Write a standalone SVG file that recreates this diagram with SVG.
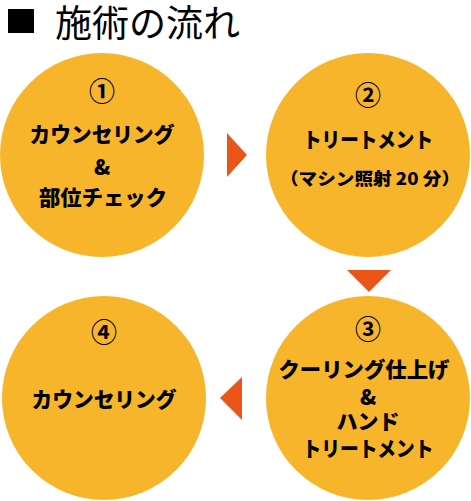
<svg xmlns="http://www.w3.org/2000/svg" width="471" height="501" viewBox="0 0 471 501">
<style>
.c{fill:#F7B52C}
.a{fill:#E8561A}
.t{font-family:"Noto Sans CJK JP","Noto Sans",sans-serif;font-weight:900;fill:#000;text-anchor:middle;dominant-baseline:central}
.n{font-size:26px;font-weight:bold}
.m{font-size:21px}
.s{font-size:17px}
</style>
<rect width="471" height="501" fill="#fff"/>
<g id="title">
<rect x="8" y="9" width="26" height="24" fill="#000"/>
<text x="55" y="21" font-family="'Noto Sans CJK JP',sans-serif" font-size="37" dominant-baseline="central">施術の流れ</text>
</g>
<g id="connectors">
<polygon class="a" points="227,133 247,155 227,177"/>
<polygon class="a" points="347,270 391,270 369,292"/>
<polygon class="a" points="242,377 242,420 220,398"/>
</g>
<g id="step1">
<circle class="c" cx="102" cy="155" r="102"/>
<text class="t n" x="102" y="89">①</text>
<text class="t m" x="102" y="133" textLength="145" lengthAdjust="spacingAndGlyphs">カウンセリング</text>
<text class="t m" x="102" y="166">&amp;</text>
<text class="t m" x="103" y="196" textLength="128" lengthAdjust="spacingAndGlyphs">部位チェック</text>
</g>
<g id="step2">
<circle class="c" cx="368" cy="155" r="102"/>
<text class="t n" x="368" y="93">②</text>
<text class="t m" x="368" y="138" textLength="130" lengthAdjust="spacingAndGlyphs">トリートメント</text>
<text class="t s" x="370" y="177" textLength="180" lengthAdjust="spacingAndGlyphs">（マシン照射 20 分）</text>
</g>
<g id="step3">
<circle class="c" cx="368" cy="398" r="102"/>
<text class="t n" x="368" y="327">③</text>
<text class="t m" x="364" y="368" textLength="171" lengthAdjust="spacingAndGlyphs">クーリング仕上げ</text>
<text class="t m" x="368" y="396">&amp;</text>
<text class="t m" x="368" y="420">ハンド</text>
<text class="t m" x="368" y="447" textLength="131" lengthAdjust="spacingAndGlyphs">トリートメント</text>
</g>
<g id="step4">
<circle class="c" cx="104" cy="398" r="102"/>
<text class="t n" x="104" y="330">④</text>
<text class="t m" x="104" y="398" textLength="145" lengthAdjust="spacingAndGlyphs">カウンセリング</text>
</g>
</svg>
